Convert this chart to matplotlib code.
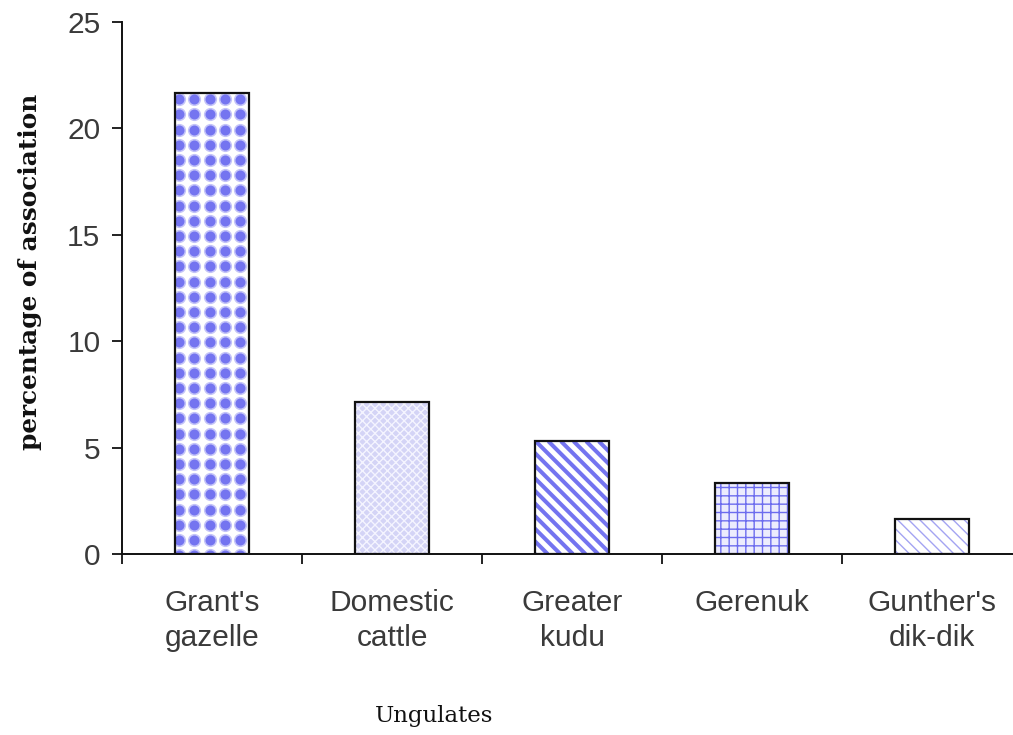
import matplotlib
matplotlib.use("Agg")
import matplotlib.pyplot as plt
import numpy as np

# Percentage of association of the study species with each ungulate
categories = ["Grant's\ngazelle", "Domestic\ncattle", "Greater\nkudu", "Gerenuk", "Gunther's\ndik-dik"]
association_pct = [21.65, 7.15, 5.3, 3.35, 1.65]
y_ticks = [0, 5, 10, 15, 20, 25]

W, H, DPI = 1013, 735, 100
fig = plt.figure(figsize=(W / DPI, H / DPI), dpi=DPI)
fig.patch.set_facecolor("white")

left_px, right_px, top_px, base_px = 122, 1013, 22, 554
ax = fig.add_axes([left_px / W, 1 - base_px / H, (right_px - left_px) / W, (base_px - top_px) / H])
slot_px = 180.0
ax.set_xlim(-0.5, -0.5 + (right_px - left_px) / slot_px)
ax.set_ylim(0, 25)

x = np.arange(len(categories))
bar_w = 0.41
blue = "#7474f0"

to_disp = ax.transData.transform
to_data = ax.transData.inverted().transform


def bar_box(i):
    (x0, y0) = to_disp((x[i] - bar_w / 2, 0))
    (x1, y1) = to_disp((x[i] + bar_w / 2, association_pct[i]))
    return x0, y0, x1, y1


# Grant's gazelle: grid of large soft dots
b0 = ax.bar(x[0], association_pct[0], bar_w, color="white", linewidth=0, zorder=2)[0]
x0, y0, x1, y1 = bar_box(0)
step = 15.2
gx = np.arange(x0 + 4, x1 + step, step)
gy = np.arange(y1 - 6, y0 - step, -step)
GX, GY = np.meshgrid(gx, gy)
pts = to_data(np.column_stack([GX.ravel(), GY.ravel()]))
halo, = ax.plot(pts[:, 0], pts[:, 1], "o", ms=9.5, mfc="#c4c4f8", mec="none", zorder=3)
halo.set_clip_path(b0)
dots, = ax.plot(pts[:, 0], pts[:, 1], "o", ms=7.2, mfc=blue, mec="none", zorder=3)
dots.set_clip_path(b0)

# Domestic cattle: fine light mesh
ax.bar(x[1], association_pct[1], bar_w, color="#d4d4f6", edgecolor="#f4f4ff",
       hatch="xxxx", linewidth=0, zorder=2)

# Greater kudu: broad diagonal stripes
b2 = ax.bar(x[2], association_pct[2], bar_w, color="white", linewidth=0, zorder=2)[0]
x0, y0, x1, y1 = bar_box(2)
span = y1 - y0
for c in np.arange(x0 - span, x1 + 12.6, 12.6):
    seg = to_data(np.array([[c, y1], [c + span, y0]]))
    ln, = ax.plot(seg[:, 0], seg[:, 1], color=blue, lw=2.9, solid_capstyle="butt", zorder=3)
    ln.set_clip_path(b2)

# Gerenuk: square grid
ax.bar(x[3], association_pct[3], bar_w, color="#ececfd", edgecolor="#6c6cee",
       hatch="++", linewidth=0, zorder=2)

# Gunther's dik-dik: fine light diagonals
ax.bar(x[4], association_pct[4], bar_w, color="white", edgecolor="#a4a4f2",
       hatch="\\\\\\", linewidth=0, zorder=2)

# Black outlines on top of all bars
ax.bar(x, association_pct, bar_w, fill=False, edgecolor="#111111", linewidth=1.6, zorder=5)

# Axes styling
for side in ("top", "right"):
    ax.spines[side].set_visible(False)
for side in ("left", "bottom"):
    ax.spines[side].set_linewidth(1.4)
    ax.spines[side].set_color("#111111")
    ax.spines[side].set_zorder(6)

ax.set_yticks(y_ticks)
ax.set_yticklabels([str(t) for t in y_ticks])
ax.tick_params(axis="y", direction="out", length=7.5, width=1.3, color="#111111",
               pad=8, labelsize=21.5, labelcolor="#3a3a3a")
for lbl in ax.get_yticklabels():
    lbl.set_fontfamily("Liberation Sans")

ax.set_xticks(x)
ax.set_xticklabels(categories, fontfamily="Liberation Sans", fontsize=21.5,
                   color="#3a3a3a", linespacing=1.33)
ax.tick_params(axis="x", which="major", length=0, pad=25)
ax.set_xticks(np.arange(-0.5, len(categories) - 0.5, 1.0), minor=True)
ax.tick_params(axis="x", which="minor", direction="out", length=7.5, width=1.3, color="#111111")

fig.text(30 / W, 1 - 272 / H, "percentage of association", rotation=90,
         ha="center", va="center", fontfamily="DejaVu Serif", fontweight="bold",
         fontsize=17.8, color="#111111")
fig.text(434 / W, 1 - 716 / H, "Ungulates", ha="center", va="center",
         fontfamily="DejaVu Serif", fontsize=16.5, color="#111111")

fig.savefig("out.png", dpi=DPI, facecolor="white")
